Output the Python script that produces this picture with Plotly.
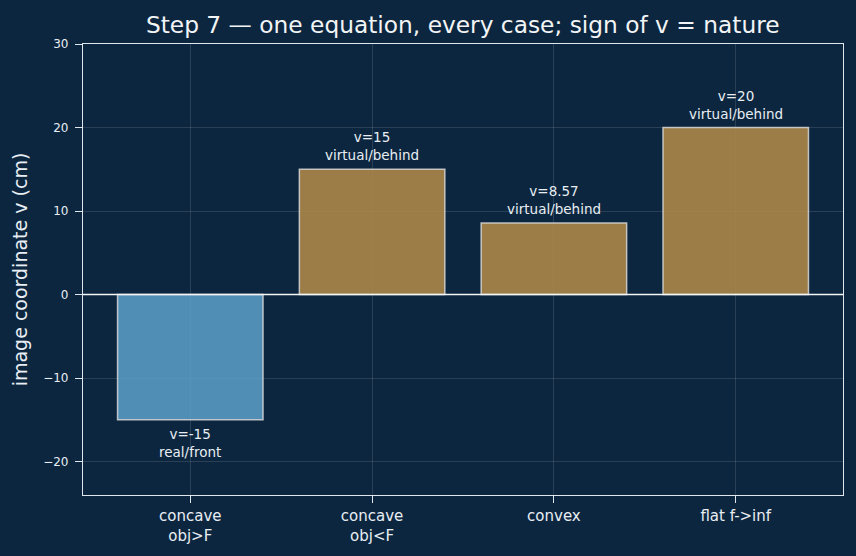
import plotly.graph_objects as go

categories = ["concave<br>obj>F", "concave<br>obj<F", "convex", "flat f->inf"]
v_values = [-15, 15, 8.57, 20]
labels = ["v=-15<br>real/front", "v=15<br>virtual/behind", "v=8.57<br>virtual/behind", "v=20<br>virtual/behind"]
y_ticks = [-20, -10, 0, 10, 20, 30]

BG = "#0c263f"
TXT = "#e8eef4"
blue = "rgba(92,160,200,0.86)"
gold = "rgba(180,138,72,0.86)"
colors = [blue if v < 0 else gold for v in v_values]

fig = go.Figure()
fig.add_trace(go.Bar(
    x=list(range(len(categories))), y=v_values, width=0.8,
    marker=dict(color=colors, line=dict(color="rgba(215,215,215,0.85)", width=1.5)),
    showlegend=False, hoverinfo="skip",
))

for i, (v, lab) in enumerate(zip(v_values, labels)):
    fig.add_annotation(
        x=i, y=v, text=lab, showarrow=False,
        yanchor="bottom" if v >= 0 else "top",
        yshift=4 if v >= 0 else -4,
        font=dict(family="DejaVu Sans", size=13.5, color=TXT),
    )

fig.add_shape(type="line", xref="paper", x0=0, x1=1, yref="y", y0=0, y1=0,
              line=dict(color="#f4f6f8", width=1.5), layer="above")

fig.update_layout(
    width=856, height=556,
    paper_bgcolor=BG, plot_bgcolor=BG,
    margin=dict(l=83, r=13, t=44, b=61),
    font=dict(family="DejaVu Sans", color=TXT),
    title=dict(text="Step 7 — one equation, every case; sign of v = nature",
               x=0.5406, xanchor="center", y=0.955, yanchor="middle",
               font=dict(size=23.3, color="#f2f4f6")),
    bargap=0.2,
)
fig.update_xaxes(
    range=[-0.59, 3.59], tickmode="array", tickvals=list(range(len(categories))),
    ticktext=categories, tickfont=dict(size=15, color=TXT),
    showgrid=True, gridcolor="rgba(255,255,255,0.12)", gridwidth=1,
    showline=True, linecolor="#dfe6ec", linewidth=1.2, mirror=True,
    ticks="outside", ticklen=7, tickcolor="#dfe6ec", zeroline=False,
)
fig.update_yaxes(
    range=[-24, 30], tickmode="array", tickvals=y_ticks,
    tickfont=dict(size=12, color=TXT), ticklabelstandoff=4,
    title=dict(text="image coordinate v (cm)", font=dict(size=19, color=TXT), standoff=10),
    showgrid=True, gridcolor="rgba(255,255,255,0.12)", gridwidth=1,
    showline=True, linecolor="#dfe6ec", linewidth=1.2, mirror=True,
    ticks="outside", ticklen=7, tickcolor="#dfe6ec", zeroline=False,
)

fig.write_html("out.html")
